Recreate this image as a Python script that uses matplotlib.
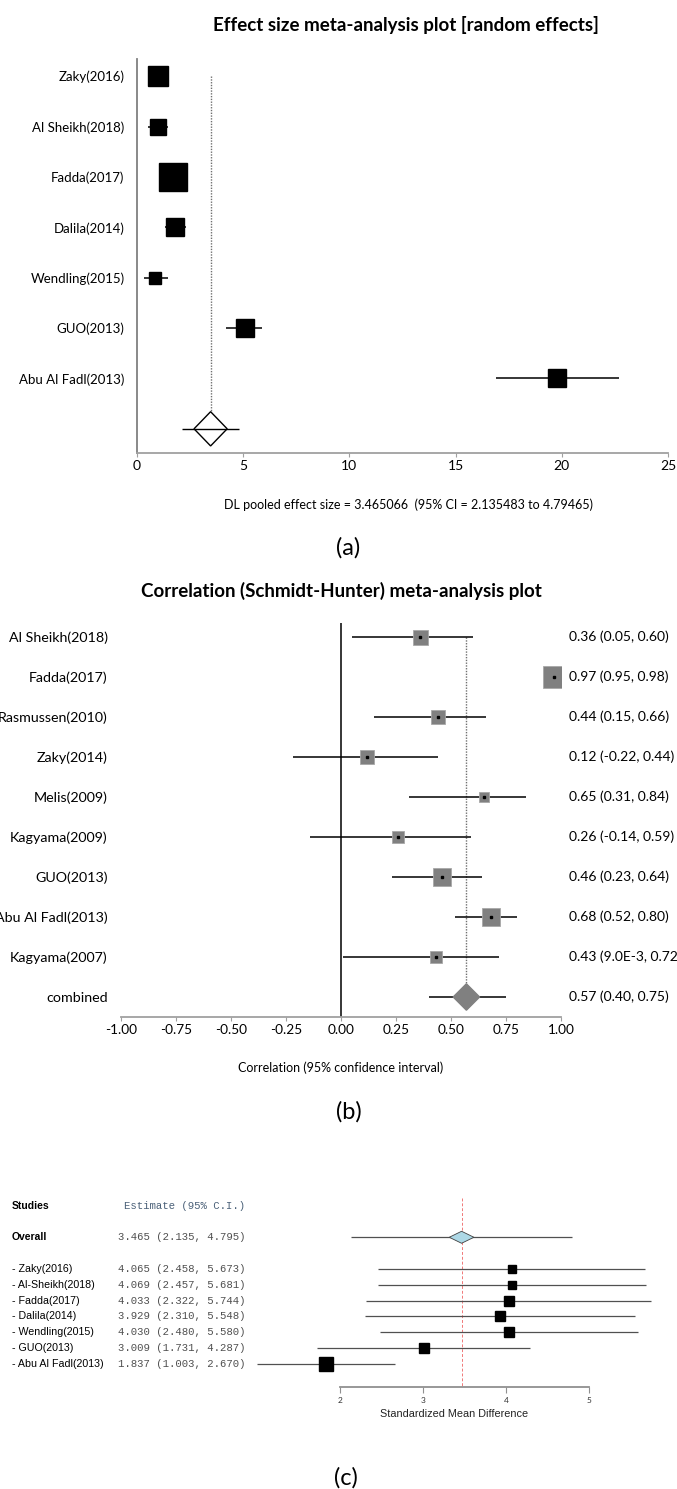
import numpy as np
import matplotlib
matplotlib.use("Agg")
import matplotlib.pyplot as plt
from matplotlib.transforms import blended_transform_factory

# ---- panel (a): effect size, random effects ----
studies_a = ['Zaky(2016)', 'Al Sheikh(2018)', 'Fadda(2017)', 'Dalila(2014)',
             'Wendling(2015)', 'GUO(2013)', 'Abu Al Fadl(2013)']
es_a = [0.97, 0.97, 1.70, 1.80, 0.87, 5.07, 19.77]
lo_a = [0.55, 0.53, 1.20, 1.30, 0.32, 4.20, 16.90]
hi_a = [1.45, 1.44, 2.20, 2.31, 1.44, 5.90, 22.70]
weight_a = [14.4, 11.5, 20.0, 12.6, 8.0, 12.6, 12.6]
pooled_a = 3.465066
pooled_ci_a = (2.135483, 4.79465)
xticks_a = [0, 5, 10, 15, 20, 25]

# ---- panel (b): correlation, Schmidt-Hunter ----
studies_b = ['Al Sheikh(2018)', 'Fadda(2017)', 'Rasmussen(2010)', 'Zaky(2014)',
             'Melis(2009)', 'Kagyama(2009)', 'GUO(2013)', 'Abu Al Fadl(2013)',
             'Kagyama(2007)']
r_b = [0.36, 0.97, 0.44, 0.12, 0.65, 0.26, 0.46, 0.68, 0.43]
lo_b = [0.05, 0.95, 0.15, -0.22, 0.31, -0.14, 0.23, 0.52, 0.009]
hi_b = [0.60, 0.98, 0.66, 0.44, 0.84, 0.59, 0.64, 0.80, 0.72]
ci_text_b = ['0.36 (0.05, 0.60)', '0.97 (0.95, 0.98)', '0.44 (0.15, 0.66)',
             '0.12 (-0.22, 0.44)', '0.65 (0.31, 0.84)', '0.26 (-0.14, 0.59)',
             '0.46 (0.23, 0.64)', '0.68 (0.52, 0.80)', '0.43 (9.0E-3, 0.72)']
weight_b = [10.8, 15.8, 10.4, 10.1, 7.9, 9.1, 12.6, 12.6, 8.6]
combined_b = 0.57
combined_ci_b = (0.40, 0.75)
combined_text_b = '0.57 (0.40, 0.75)'
xticks_b = [-1.00, -0.75, -0.50, -0.25, 0.00, 0.25, 0.50, 0.75, 1.00]

# ---- panel (c): standardized mean difference ----
studies_c = ['- Zaky(2016)', '- Al-Sheikh(2018)', '- Fadda(2017)', '- Dalila(2014)',
             '- Wendling(2015)', '- GUO(2013)', '- Abu Al Fadl(2013)']
smd_c = [4.065, 4.069, 4.033, 3.929, 4.030, 3.009, 1.837]
lo_c = [2.458, 2.457, 2.322, 2.310, 2.480, 1.731, 1.003]
hi_c = [5.673, 5.681, 5.744, 5.548, 5.580, 4.287, 2.670]
weight_c = [6.3, 6.3, 6.5, 6.5, 6.5, 7.7, 9.4]
overall_c = 3.465
overall_ci_c = (2.135, 4.795)
xticks_c = [2, 3, 4, 5]

W, H = 677, 1489
plt.rcParams['font.family'] = ['Lato', 'DejaVu Sans']

fig = plt.figure(figsize=(W / 100, H / 100), dpi=100)


def rect(x0, x1, ytop, ybot):
    return [x0 / W, 1 - ybot / H, (x1 - x0) / W, (ybot - ytop) / H]


def fx(px):
    return px / W


def fy(py):
    return 1 - py / H


# ================= (a) =================
ax = fig.add_axes(rect(137, 668, 59, 453))
rows = np.arange(len(studies_a))
ax.hlines(rows, lo_a, hi_a, color='black', lw=1.1, zorder=2)
for x, y, w in zip(es_a, rows, weight_a):
    ax.plot(x, y, marker='s', ms=w, color='black', zorder=3)
prow = len(studies_a)
hw, hh = 0.78, 0.34
ax.fill([pooled_a - hw, pooled_a, pooled_a + hw, pooled_a],
        [prow, prow - hh, prow, prow + hh], facecolor='white',
        edgecolor='black', lw=1.0, zorder=3)
ax.hlines(prow, pooled_ci_a[0], pooled_ci_a[1], color='black', lw=1.0, zorder=4)
ax.vlines(pooled_a, 0, prow - hh, color='#707070', lw=1, linestyles=(0, (1, 1)), zorder=1)
ax.set_xlim(0, 25)
ax.set_ylim(7.48, -0.34)
ax.set_xticks(xticks_a)
ax.set_yticks(rows, studies_a)
ax.tick_params(axis='y', length=0, pad=9, labelsize=9.5)
ax.tick_params(axis='x', length=3, color='#a0a0a0', labelsize=10, pad=2)
for s in ['top', 'right']:
    ax.spines[s].set_visible(False)
ax.spines['left'].set_color('#808080')
ax.spines['bottom'].set_color('#a0a0a0')
ax.spines['left'].set_linewidth(1.3)
ax.spines['bottom'].set_linewidth(1.3)

fig.text(fx(406), fy(25), 'Effect size meta-analysis plot [random effects]',
         ha='center', va='center', fontsize=13.5, fontweight='bold')
fig.text(fx(408), fy(505),
         'DL pooled effect size = %.6f  (95%% CI = %.6f to %.5f)'
         % (pooled_a, pooled_ci_a[0], pooled_ci_a[1]),
         ha='center', va='center', fontsize=9)
fig.text(fx(348), fy(548), '(a)', ha='center', va='center', fontsize=17)

# ================= (b) =================
bx = fig.add_axes(rect(121, 561, 623, 1017))
rows_b = np.arange(len(studies_b))
bx.hlines(rows_b, lo_b, hi_b, color='black', lw=1.1, zorder=2)
for x, y, w in zip(r_b, rows_b, weight_b):
    bx.plot(x, y, marker='s', ms=w, color='#808080', mec='#a8a8a8', mew=0.6, zorder=3)
    bx.plot(x, y, marker='s', ms=1.6, color='black', zorder=4)
crow = len(studies_b)
dw, dh = 0.06, 0.33
bx.hlines(crow, combined_ci_b[0], combined_ci_b[1], color='black', lw=1.1, zorder=2)
bx.fill([combined_b - dw, combined_b, combined_b + dw, combined_b],
        [crow, crow - dh, crow, crow + dh], color='#808080', zorder=3)
bx.vlines(combined_b, 0, crow - dh, color='#707070', lw=1, linestyles=(0, (1, 1)), zorder=1)
bx.axvline(0, color='black', lw=1.1, zorder=1)
bx.set_xlim(-1, 1)
bx.set_ylim(9.5, -0.35)
bx.set_xticks(xticks_b, ['%.2f' % t for t in xticks_b])
bx.set_yticks(list(rows_b) + [crow], studies_b + ['combined'])
bx.tick_params(axis='y', length=0, pad=9.5, labelsize=10.3)
bx.tick_params(axis='x', length=3, color='#a0a0a0', labelsize=9.8, pad=2)
for s in ['top', 'right', 'left']:
    bx.spines[s].set_visible(False)
bx.spines['bottom'].set_color('#a0a0a0')
bx.spines['bottom'].set_linewidth(1.3)
tr_b = blended_transform_factory(fig.transFigure, bx.transData)
for y, t in zip(list(rows_b) + [crow], ci_text_b + [combined_text_b]):
    bx.text(fx(569), y, t, transform=tr_b, ha='left', va='center', fontsize=10, clip_on=False)

fig.text(fx(341), fy(591), 'Correlation (Schmidt-Hunter) meta-analysis plot',
         ha='center', va='center', fontsize=13.5, fontweight='bold')
fig.text(fx(341), fy(1068), 'Correlation (95% confidence interval)',
         ha='center', va='center', fontsize=9)
fig.text(fx(349), fy(1112), '(b)', ha='center', va='center', fontsize=17)

# ================= (c) =================
cx = fig.add_axes(rect(0, 677, 1190, 1387))
rows_c = np.arange(len(studies_c))
ocrow = -2
head = -4
cx.hlines(rows_c, lo_c, hi_c, color='#505050', lw=0.9, zorder=2)
for x, y, w in zip(smd_c, rows_c, weight_c):
    cx.plot(x, y, marker='s', ms=w, color='black', zorder=3)
cx.hlines(ocrow, overall_ci_c[0], overall_ci_c[1], color='#505050', lw=0.9, zorder=2)
ow, oh = 0.148, 0.38
cx.fill([overall_c - ow, overall_c, overall_c + ow, overall_c],
        [ocrow, ocrow - oh, ocrow, ocrow + oh], facecolor='#add8e6',
        edgecolor='#404040', lw=0.6, zorder=3)
cx.vlines(overall_c, -4.5, 7.47, color='#f07878', lw=0.7, linestyles=(0, (3, 2)), zorder=1)
x0c = 2 - 339.7 / 83.2
cx.set_xlim(x0c, x0c + W / 83.2)
cx.set_ylim(7.47, -4.99)
cx.set_xticks(xticks_c)
cx.set_yticks([])
cx.tick_params(axis='x', length=4, color='#909090', labelsize=6, labelcolor='#333333', pad=3)
for s in ['top', 'right', 'left']:
    cx.spines[s].set_visible(False)
cx.spines['bottom'].set_bounds(2, 5)
cx.spines['bottom'].set_color('#909090')
cx.spines['bottom'].set_linewidth(1.3)

tr_c = blended_transform_factory(fig.transFigure, cx.transData)
sans = 'Liberation Sans'
mono = 'Liberation Mono'
cx.text(fx(12), head, 'Studies', transform=tr_c, ha='left', va='center',
        fontsize=7.5, fontweight='bold', family=sans)
cx.text(fx(245), head, 'Estimate (95% C.I.)', transform=tr_c, ha='right', va='center',
        fontsize=7.7, family=mono, color='#4a6078')
cx.text(fx(12), ocrow, 'Overall', transform=tr_c, ha='left', va='center',
        fontsize=7.5, fontweight='bold', family=sans)
cx.text(fx(245), ocrow, '%.3f (%.3f, %.3f)' % (overall_c, *overall_ci_c), transform=tr_c,
        ha='right', va='center', fontsize=7.7, family=mono, color='#505050')
for y, name, e, l, h in zip(rows_c, studies_c, smd_c, lo_c, hi_c):
    cx.text(fx(12), y, name, transform=tr_c, ha='left', va='center', fontsize=7.7, family=sans)
    cx.text(fx(245), y, '%.3f (%.3f, %.3f)' % (e, l, h), transform=tr_c, ha='right',
            va='center', fontsize=7.7, family=mono, color='#505050')

cx.text(3.37, 9.15, 'Standardized Mean Difference', ha='center', va='center',
        fontsize=7.8, family=sans, color='#222222', clip_on=False)
fig.text(fx(346), fy(1478), '(c)', ha='center', va='center', fontsize=17)

fig.savefig('out.png', dpi=100)
